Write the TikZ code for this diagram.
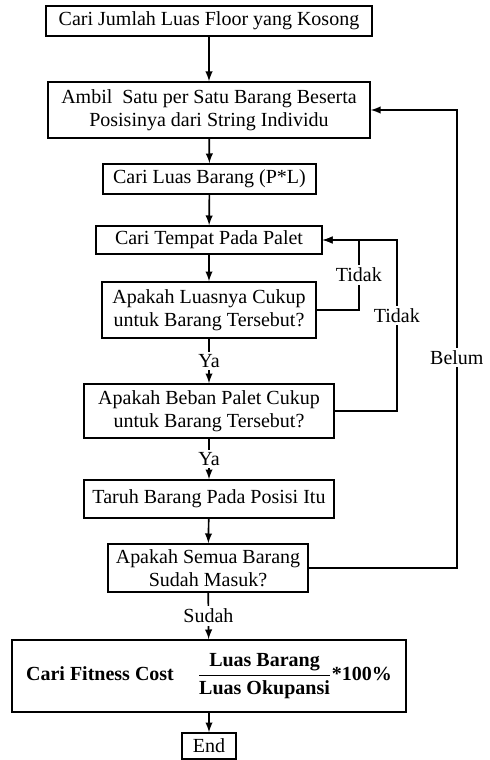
\documentclass[tikz,border=0pt]{standalone}
\usepackage{fontspec}
\setmainfont{Liberation Serif}
\usetikzlibrary{positioning}
\begin{document}
\begin{tikzpicture}[x=0.6pt,y=-0.6pt,
    font=\fontsize{12}{14}\selectfont,
    kotak/.style={draw, line width=1pt, align=center, inner sep=0pt},
    panah/.style={draw, line width=1pt, ->, >=latex},
    ket/.style={fill=white, inner sep=1.5pt}]
        \useasboundingbox (0,0) rectangle (490,760);

        \node[kotak, minimum width=195.6pt, minimum height=18pt] (kosong) at (209,21) {Cari Jumlah Luas Floor yang Kosong};
        \node[kotak, minimum width=193.2pt, minimum height=33.6pt] (ambil) at (209,110) {Ambil\ \ Satu per Satu Barang Beserta\\Posisinya dari String Individu};
        \node[kotak, minimum width=127.8pt, minimum height=18pt] (luas) at (209.5,179) {Cari Luas Barang (P*L)};
        \node[kotak, minimum width=135.6pt, minimum height=16.8pt] (tempat) at (209,240) {Cari Tempat Pada Palet};
        \node[kotak, minimum width=128.4pt, minimum height=33.6pt] (cekluas) at (209,310) {Apakah Luasnya Cukup\\untuk Barang Tersebut?};
        \node[kotak, minimum width=150pt, minimum height=32.4pt] (cekbeban) at (209,411) {Apakah Beban Palet Cukup\\untuk Barang Tersebut?};
        \node[kotak, minimum width=150pt, minimum height=22.8pt] (taruh) at (209,499) {Taruh Barang Pada Posisi Itu};
        \node[kotak, minimum width=120pt, minimum height=28.8pt] (cekmasuk) at (208,568) {Apakah Semua Barang\\Sudah Masuk?};
        \node[kotak, minimum width=236.4pt, minimum height=43.2pt] (fitness) at (209,676)
            {\bfseries Cari Fitness Cost\hspace{14pt}$\displaystyle\frac{\mbox{\bfseries Luas Barang}}{\mbox{\bfseries Luas Okupansi}}$*100\%};
        \node[kotak, minimum width=32.4pt, minimum height=15.6pt] (selesai) at (209,746) {End};

        \path[panah] (kosong) -- (ambil);
        \path[panah] (ambil) -- (luas);
        \path[panah] (luas) -- (tempat);
        \path[panah] (tempat) -- (cekluas);
        \path[panah] (cekluas) -- node[ket] {Ya} (cekbeban);
        \path[panah] (cekbeban) -- node[ket] {Ya} (taruh);
        \path[panah] (taruh) -- (cekmasuk);
        \path[panah] (cekmasuk) -- node[ket] {Sudah} (fitness);
        \path[panah] (fitness) -- (selesai);

        \path[panah] (cekluas.east) -- ++(42,0) |- node[ket, pos=0.25] {Tidak} (tempat.east);
        \path[panah] (cekbeban.east) -- ++(62,0) |- node[ket, pos=0.28] {Tidak} (tempat.east);
        \path[panah] (cekmasuk.east) -- ++(148,0) |- node[ket, pos=0.23] {Belum} (ambil.east);
    \end{tikzpicture}
\end{document}
